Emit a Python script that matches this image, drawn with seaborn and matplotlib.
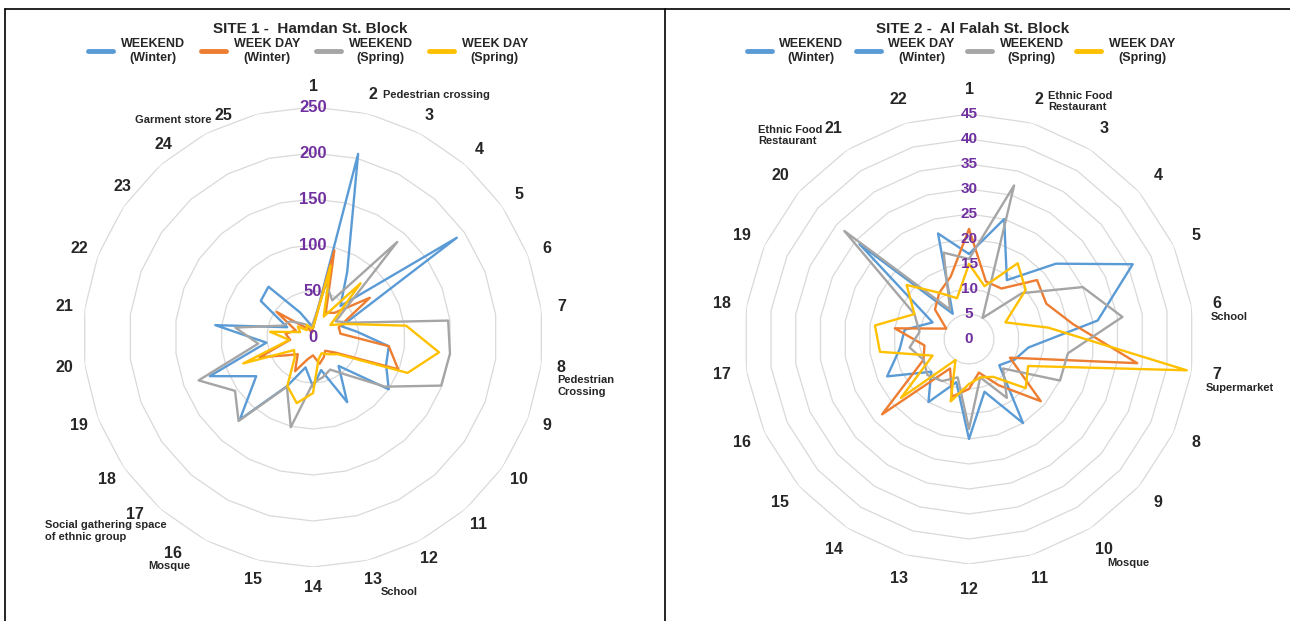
import numpy as np
import pandas as pd
import matplotlib.pyplot as plt
import seaborn as sns
from matplotlib.lines import Line2D

# legend text and line colours of the four surveys
series_names = ["WEEKEND\n(Winter)", "WEEK DAY\n(Winter)", "WEEKEND\n(Spring)", "WEEK DAY\n(Spring)"]
line_colors = ["#5B9BD5", "#ED7D31", "#A5A5A5", "#FFC000"]

# Site 1 - Hamdan St. Block (26 spokes, the last one has no label)
site1_labels = [str(i) for i in range(1, 26)] + [""]
site1_weekend_winter = [10, 205, 80, 45, 190, 33, 48, 83, 85, 100, 42, 80, 37,
                        54, 34, 60, 120, 75, 120, 51, 107, 30, 69, 73, 30, 15]
site1_weekday_winter = [10, 97, 30, 35, 75, 30, 30, 83, 99, 30, 20, 25, 30,
                        20, 25, 42, 25, 35, 62, 25, 30, 20, 48, 15, 10, 5]
site1_weekend_spring = [15, 60, 45, 138, 30, 44, 148, 150, 149, 95, 55, 40, 45,
                        50, 101, 61, 122, 103, 133, 60, 85, 35, 30, 20, 15, 10]
site1_weekday_spring = [10, 80, 25, 78, 23, 40, 102, 138, 110, 33, 25, 20, 25,
                        61, 74, 60, 30, 25, 81, 26, 47, 15, 20, 10, 15, 10]
site1_ticks = [0, 50, 100, 150, 200, 250]
site1_notes = {2: "Pedestrian crossing", 8: "Pedestrian\nCrossing", 13: "School",
               16: "Mosque", 17: "Social gathering space\nof ethnic group", 25: "Garment store"}

# Site 2 - Al Falah St. Block (22 spokes)
site2_labels = [str(i) for i in range(1, 23)]
site2_weekend_winter = [17, 25, 14, 23, 36, 26, 12, 10, 8, 20, 11,
                        20, 9, 15, 10, 18, 14, 13, 8, 29, 6, 22]
site2_weekday_winter = [22, 12, 12, 18, 17, 21, 34, 9, 19, 11, 7,
                        10, 12, 7, 23, 10, 9, 15, 5, 9, 11, 13]
site2_weekend_spring = [16, 32, 5, 14, 25, 31, 20, 20, 9, 14, 8,
                        18, 8, 10, 11, 10, 12, 10, 12, 33, 7, 18]
site2_weekday_spring = [15, 11, 18, 15, 8, 16, 44, 13, 15, 9, 8,
                        9, 13, 5, 18, 8, 18, 19, 12, 16.5, 11, 8.5]
site2_ticks = [0, 5, 10, 15, 20, 25, 30, 35, 40, 45]
site2_notes = {2: "Ethnic Food\nRestaurant", 6: "School", 7: "Supermarket",
               10: "Mosque", 21: "Ethnic Food\nRestaurant"}
# the second legend swatch is blue in the original figure
site2_legend_colors = ["#5B9BD5", "#5B9BD5", "#A5A5A5", "#FFC000"]

# spoke numbers that were nudged by hand in the original (points)
label_shift = {
    "site1": {16: (-17, 4), 17: (-9, 7), 23: (11, 6), 24: (12, 4), 25: (19, 0)},
    "site2": {},
}
# where each note sits next to its spoke number (offset in points, ha, va)
note_layout = {
    "site1": {2: (7, -1, "left", "center"), 8: (-3, -6, "left", "top"),
              13: (6, -5, "left", "top"), 16: (-3, -6, "center", "top"),
              17: (23, -4, "right", "top"), 25: (-8, -3, "right", "center")},
    "site2": {2: (6, 6, "left", "top"), 6: (-4, -6, "left", "top"),
              7: (-8, -6, "left", "top"), 10: (2, -6, "left", "top"),
              21: (-8, 3, "right", "top")},
}


def draw_radar(ax, labels, series, ticks, notes, layout, shifts, label_r, tick_size):
    n = len(labels)
    theta = np.linspace(0, 2 * np.pi, n, endpoint=False)
    closed = np.append(theta, 2 * np.pi)

    rows = []
    for name, vals in zip(series_names, series):
        for t, v in zip(closed, list(vals) + [vals[0]]):
            rows.append({"theta": t, "value": v, "series": name})
    df = pd.DataFrame(rows)

    ax.set_theta_zero_location("N")
    ax.set_theta_direction(-1)

    # polygon gridlines like an Excel radar chart
    for r in ticks[1:]:
        ax.plot(closed, [r] * (n + 1), color="#D9D9D9", lw=0.9, zorder=1)

    sns.lineplot(data=df, x="theta", y="value", hue="series",
                 palette=dict(zip(series_names, line_colors)), sort=False,
                 estimator=None, linewidth=1.7, legend=False, ax=ax, zorder=3)

    ax.set_ylim(0, ticks[-1])
    ax.set_xticks([])
    ax.set_yticks([])
    ax.set_xlabel("")
    ax.set_ylabel("")
    ax.grid(False)
    ax.spines["polar"].set_visible(False)

    # purple value labels up the vertical spoke
    for r in ticks:
        ax.text(0, r, str(r), color="#7030A0", fontsize=tick_size, fontweight="bold",
                ha="center", va="center", zorder=5)

    # spoke numbers and notes
    for i, t in enumerate(theta):
        k = i + 1
        sx, sy = shifts.get(k, (0, 0))
        ax.annotate(labels[i], xy=(t, label_r), xytext=(sx, sy), textcoords="offset points",
                    ha="center", va="center", fontsize=11.5, fontweight="bold",
                    annotation_clip=False)
        if k in notes:
            dx, dy, ha, va = layout[k]
            ax.annotate(notes[k], xy=(t, label_r), xytext=(sx + dx, sy + dy),
                        textcoords="offset points", ha=ha, va=va,
                        multialignment="left", fontsize=8, fontweight="bold",
                        annotation_clip=False)


def add_legend(fig, colors, x, y, spacing):
    handles = [Line2D([0], [0], color=c, lw=3.5) for c in colors]
    leg = fig.legend(handles, series_names, loc="center", bbox_to_anchor=(x, y),
                     ncol=4, frameon=False, prop={"weight": "bold", "size": 9},
                     handlelength=2.0, columnspacing=spacing, handletextpad=0.6)
    for t in leg.get_texts():
        t.set_multialignment("center")


sns.set_style("white")
plt.rcParams["font.family"] = ["Liberation Sans", "DejaVu Sans"]

W, H = 1290, 621
fig = plt.figure(figsize=(W / 100, H / 100), dpi=100)

ax1 = fig.add_axes([83 / W, 54 / H, 460 / W, 460 / H], projection="polar")
draw_radar(ax1, site1_labels,
           [site1_weekend_winter, site1_weekday_winter, site1_weekend_spring, site1_weekday_spring],
           site1_ticks, site1_notes, note_layout["site1"], label_shift["site1"], 272, 12)

ax2 = fig.add_axes([744 / W, 57 / H, 450 / W, 450 / H], projection="polar")
draw_radar(ax2, site2_labels,
           [site2_weekend_winter, site2_weekday_winter, site2_weekend_spring, site2_weekday_spring],
           site2_ticks, site2_notes, note_layout["site2"], label_shift["site2"], 50, 11)

fig.text(310 / W, 1 - 29 / H, "SITE 1 -  Hamdan St. Block", ha="center", va="center",
         fontsize=11, fontweight="bold")
fig.text(973 / W, 1 - 29 / H, "SITE 2 -  Al Falah St. Block", ha="center", va="center",
         fontsize=11, fontweight="bold")

add_legend(fig, line_colors, 308 / W, 1 - 51 / H, 1.3)
add_legend(fig, site2_legend_colors, 961 / W, 1 - 51 / H, 1.0)

# panel borders
for xs, ys in [([5, 5], [0, H - 9]), ([665, 665], [0, H - 9]), ([5, W], [H - 9, H - 9])]:
    fig.add_artist(Line2D([v / W for v in xs], [v / H for v in ys], color="black",
                          lw=1.2, transform=fig.transFigure))

fig.savefig("out.png", dpi=100)
